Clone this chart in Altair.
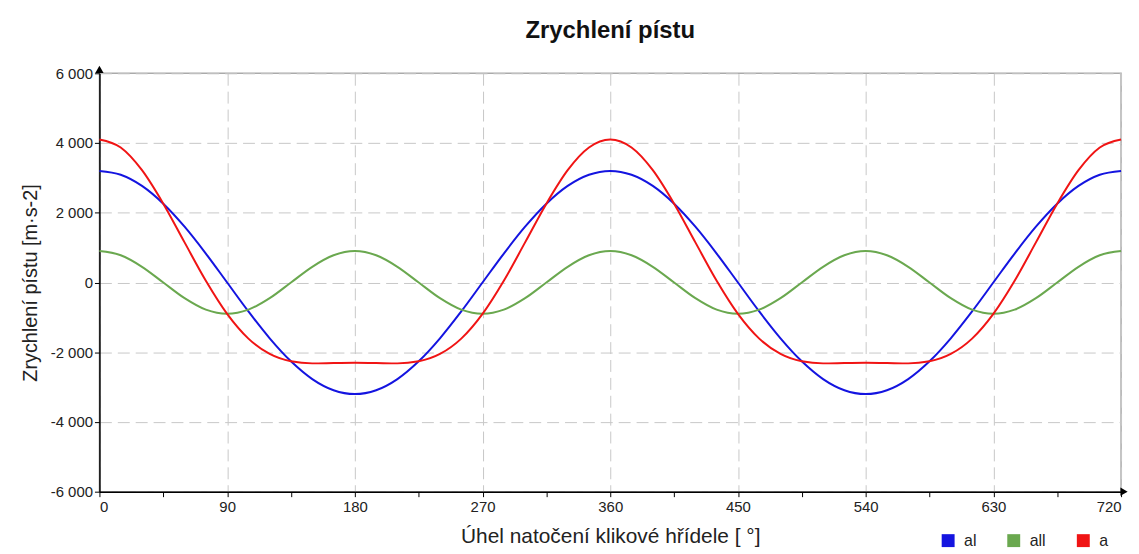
import altair as alt
import pandas as pd

angles = list(range(0, 721, 15))

al = [3200, 3090, 2770, 2260, 1600, 830, 0, -830, -1600, -2260, -2770, -3090,
      -3200, -3090, -2770, -2260, -1600, -830, 0, 830, 1600, 2260, 2770, 3090,
      3200, 3090, 2770, 2260, 1600, 830, 0, -830, -1600, -2260, -2770, -3090,
      -3200, -3090, -2770, -2260, -1600, -830, 0, 830, 1600, 2260, 2770, 3090,
      3200]

all_ = [900, 780, 450, 0, -450, -780, -900, -780, -450, 0, 450, 780,
        900, 780, 450, 0, -450, -780, -900, -780, -450, 0, 450, 780,
        900, 780, 450, 0, -450, -780, -900, -780, -450, 0, 450, 780,
        900, 780, 450, 0, -450, -780, -900, -780, -450, 0, 450, 780,
        900]

a = [4100, 3870, 3220, 2260, 1150, 50, -900, -1610, -2050, -2260, -2320, -2310,
     -2300, -2310, -2320, -2260, -2050, -1610, -900, 50, 1150, 2260, 3220, 3870,
     4100, 3870, 3220, 2260, 1150, 50, -900, -1610, -2050, -2260, -2320, -2310,
     -2300, -2310, -2320, -2260, -2050, -1610, -900, 50, 1150, 2260, 3220, 3870,
     4100]

series_names = ["al", "all", "a"]
series_colors = ["#1414e0", "#6aa84f", "#f01414"]

x_ticks = list(range(0, 721, 45))
y_ticks = list(range(-6000, 6001, 1000))

rows = []
for name, vals in zip(series_names, [al, all_, a]):
    for ang, v in zip(angles, vals):
        rows.append({"uhel": ang, "hodnota": v, "serie": name})
df = pd.DataFrame(rows)

arrow_up_df = pd.DataFrame({"uhel": [0], "hodnota": [6000]})
arrow_right_df = pd.DataFrame({"uhel": [720], "hodnota": [-6000]})

font = "Liberation Sans"

ylabel = ("(datum.value % 2000 === 0) ? ((datum.value < 0 ? '-' : '') + "
          "replace(format(abs(datum.value), ','), ',', ' ')) : ''")
xlabel = "(datum.value % 90 === 0) ? format(datum.value, 'd') : ''"

x_enc = alt.X("uhel:Q",
              scale=alt.Scale(domain=[0, 720], nice=False),
              axis=alt.Axis(values=x_ticks, labelExpr=xlabel,
                            labelFontSize=15, labelFont=font, labelColor="#222",
                            labelPadding=3,
                            title="Úhel natočení klikové hřídele [ °]",
                            titlePadding=11, titleFontSize=21,
                            gridOpacity={"condition": {"test": "datum.value % 90 === 0", "value": 1}, "value": 0}))
y_enc = alt.Y("hodnota:Q",
              scale=alt.Scale(domain=[-6000, 6000], nice=False),
              axis=alt.Axis(values=y_ticks, labelExpr=ylabel,
                            labelFontSize=15, labelFont=font, labelColor="#222",
                            title="Zrychlení pístu [m·s-2]",
                            titlePadding=10, titleFontSize=20,
                            gridOpacity={"condition": {"test": "datum.value % 2000 === 0", "value": 1}, "value": 0}))

lines = alt.Chart(df).mark_line(strokeWidth=2, interpolate="monotone").encode(
    x=x_enc,
    y=y_enc,
    color=alt.Color("serie:N",
                    scale=alt.Scale(domain=series_names, range=series_colors),
                    sort=series_names,
                    legend=alt.Legend(title=None, orient="none", direction="horizontal",
                                      legendX=846, legendY=462,
                                      symbolType="square", symbolSize=25,
                                      symbolStrokeWidth=8,
                                      labelFontSize=16, labelFont=font, labelColor="#222",
                                      columnPadding=18, labelOffset=8)),
    order=alt.Order("uhel:Q"),
    detail="serie:N",
)

arrow_up = alt.Chart(arrow_up_df).mark_point(
    filled=True, color="black", size=70, opacity=1, shape="triangle-up", yOffset=-4
).encode(x="uhel:Q", y="hodnota:Q")

arrow_right = alt.Chart(arrow_right_df).mark_point(
    filled=True, color="black", size=70, opacity=1, shape="triangle-right", xOffset=3
).encode(x="uhel:Q", y="hodnota:Q")

chart = alt.layer(lines, arrow_up, arrow_right).properties(
    width=1028, height=421,
    autosize=alt.AutoSizeParams(type="none"),
    padding={"left": 92, "top": 64, "right": 10, "bottom": 60},
    title=alt.TitleParams("Zrychlení pístu", fontSize=24, fontWeight="bold",
                          font=font, color="#111", anchor="middle", offset=23),
).configure(
    background="white"
).configure_view(
    stroke="#aaaaaa", strokeWidth=1.5
).configure_axis(
    domainColor="black", domainWidth=1.5,
    tickColor="black", tickSize=5, tickWidth=1,
    titleFont=font, titleFontWeight="normal", titleColor="#222",
    gridColor="#c8c8c8", gridDash=[12, 6], gridWidth=1,
)

chart.save("out.html", embed_options={"renderer": "svg", "actions": False})
